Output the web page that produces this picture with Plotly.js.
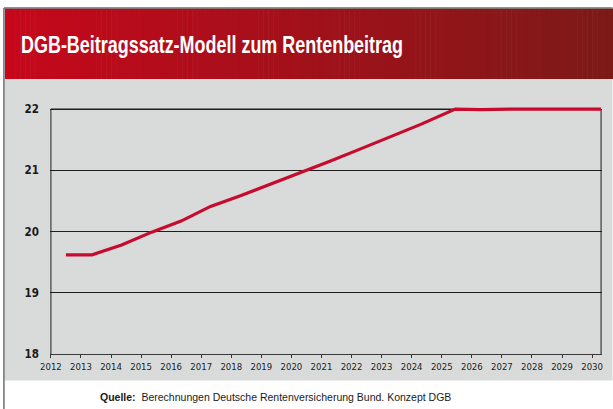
<!DOCTYPE html>
<html>
<head>
<meta charset="utf-8">
<script src="https://cdn.plot.ly/plotly-3.0.1.min.js"></script>
<style>html,body{margin:0;padding:0;background:#fff;}#chart{width:613px;height:409px;}</style>
</head>
<body>
<div id="chart"></div>
<script>
// ---- data ----
const years = [2012.5, 2013.37, 2014.35, 2015.35, 2016.33, 2017.31, 2018.28, 2019.3, 2020.3, 2021.3, 2022.3, 2023.3, 2024.3, 2025.45, 2026.3, 2027.3, 2028.3, 2029.3, 2030.3];
const beitragssatz = [19.62, 19.62, 19.78, 19.99, 20.17, 20.41, 20.58, 20.77, 20.96, 21.15, 21.35, 21.55, 21.75, 22.0, 21.99, 22.0, 22.0, 21.99, 22.0];
const xTickVals = [2012, 2013, 2014, 2015, 2016, 2017, 2018, 2019, 2020, 2021, 2022, 2023, 2024, 2025, 2026, 2027, 2028, 2029, 2030];
const xTickText = ['2012','2013','2014','2015','2016','2017','2018','2019','2020','2021','2022','2023','2024','2025','2026','2027','2028','2029','2030'];
const yTickVals = [18, 19, 20, 21, 22];
const yTickText = ['18', '19', '20', '21', '22'];
const titleText = 'DGB-Beitragssatz-Modell zum Rentenbeitrag';
const sourceText = '<b>Quelle:</b>  Berechnungen Deutsche Rentenversicherung Bund. Konzept DGB';

// ---- layout geometry ----
const W = 613, H = 409;
const xRange = [2011.97, 2030.33];
const yRange = [18, 22.05];
const m = {l: 50.1, r: 10.5, t: 106, b: 55};
const pw = W - m.l - m.r, ph = H - m.t - m.b;
const px = x => (x - m.l) / pw;          // pixel -> paper x
const py = y => (H - m.b - y) / ph;      // pixel -> paper y

const shapes = [];
// header gradient
const c0 = [198, 8, 28], c1 = [124, 26, 24];
const hx0 = 5, hx1 = 613, N = 120;
for (let i = 0; i < N; i++) {
  const t = i / (N - 1);
  const c = c0.map((v, k) => Math.round(v + (c1[k] - v) * t));
  const a = hx0 + (hx1 - hx0) * i / N, b = hx0 + (hx1 - hx0) * (i + 1) / N + 0.6;
  shapes.push({type: 'rect', xref: 'paper', yref: 'paper', layer: 'below',
    x0: px(a), x1: px(b), y0: py(79), y1: py(8.5),
    fillcolor: `rgb(${c[0]},${c[1]},${c[2]})`, line: {width: 0}});
}
// gray panel
shapes.push({type: 'rect', xref: 'paper', yref: 'paper', layer: 'below',
  x0: px(4.5), x1: px(613), y0: py(380.5), y1: py(79),
  fillcolor: '#d9dbda', line: {width: 0}});
// outer border (left + top)
shapes.push({type: 'line', xref: 'paper', yref: 'paper', layer: 'below',
  x0: px(4), x1: px(4), y0: py(409), y1: py(8), line: {color: '#6e6e6e', width: 1.5}});
shapes.push({type: 'line', xref: 'paper', yref: 'paper', layer: 'below',
  x0: px(4), x1: px(613), y0: py(8), y1: py(8), line: {color: '#6e6e6e', width: 1.5}});
// plot frame (left, top, right)
shapes.push({type: 'line', xref: 'x', yref: 'y', layer: 'below',
  x0: xTickVals[0], x1: xTickVals[0], y0: yTickVals[0], y1: yTickVals[4], line: {color: '#4a4a4a', width: 1.3}});
shapes.push({type: 'line', xref: 'x', yref: 'y', layer: 'below',
  x0: xTickVals[0], x1: 2030.3, y0: yTickVals[4], y1: yTickVals[4], line: {color: '#5a5a5a', width: 1.6}});
shapes.push({type: 'line', xref: 'x', yref: 'y', layer: 'below',
  x0: 2030.3, x1: 2030.3, y0: yTickVals[0], y1: yTickVals[4], line: {color: '#5a5a5a', width: 1.5}});

const data = [{
  type: 'scatter', mode: 'lines', x: years, y: beitragssatz,
  line: {color: '#c80a2d', width: 3.2}, hoverinfo: 'skip'
}];

const layout = {
  width: W, height: H, margin: m,
  paper_bgcolor: '#ffffff', plot_bgcolor: 'rgba(0,0,0,0)',
  showlegend: false,
  xaxis: {
    range: xRange, tickvals: xTickVals, ticktext: xTickText,
    showgrid: false, zeroline: false, showline: true, linecolor: '#3a3a3a', linewidth: 1.3,
    ticks: 'outside', ticklen: 3, tickwidth: 1, tickcolor: '#3a3a3a',
    tickfont: {family: '"DejaVu Sans Condensed", sans-serif', size: 9.5, color: '#222'},
    fixedrange: true
  },
  yaxis: {
    range: yRange, tickvals: yTickVals, ticktext: yTickText,
    showgrid: true, gridcolor: '#1e1e1e', gridwidth: 1, zeroline: false, showline: false,
    ticks: '', ticklabelstandoff: 10,
    tickfont: {family: '"DejaVu Sans Condensed", sans-serif', size: 11.5, color: '#1a1a1a', weight: 'bold'},
    fixedrange: true
  },
  shapes: shapes,
  annotations: [
    {text: titleText, xref: 'paper', yref: 'paper', x: px(19), y: py(44), xanchor: 'left', yanchor: 'middle',
     showarrow: false, font: {family: '"Liberation Sans", Arial, sans-serif', size: 24, color: '#ffffff', weight: 'bold'}},
    {text: sourceText, xref: 'paper', yref: 'paper', x: px(98), y: py(396.5), xanchor: 'left', yanchor: 'middle',
     showarrow: false, font: {family: '"Liberation Sans", Arial, sans-serif', size: 10.5, color: '#1a1a1a'}}
  ]
};

Plotly.newPlot('chart', data, layout, {displayModeBar: false, staticPlot: true}).then(() => {
  // condense the title like the original condensed typeface
  const t = document.querySelector('.annotation .annotation-text');
  if (t) {
    const bb = t.getBBox();
    t.setAttribute('text-anchor', 'start');
    t.setAttribute('x', bb.x);
    t.setAttribute('textLength', 382);
    t.setAttribute('lengthAdjust', 'spacingAndGlyphs');
  }
});
</script>
</body>
</html>
